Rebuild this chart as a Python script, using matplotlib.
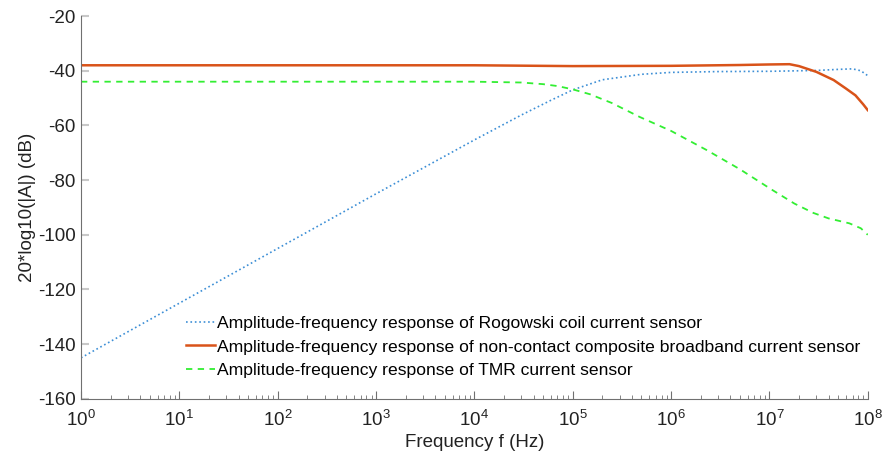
import numpy as np
import matplotlib
matplotlib.use("Agg")
import matplotlib.pyplot as plt

plt.rcParams['font.family'] = ['Liberation Sans', 'DejaVu Sans']
plt.rcParams['axes.unicode_minus'] = False

# values (frequency in Hz, response in dB)
rog_f = [1, 10, 100, 1e3, 1e4, 3e4, 6e4, 1e5, 2e5, 5e5, 1e6, 3e6, 1e7, 3e7, 5e7, 7e7, 8.5e7, 1e8]
rog_db = [-145, -125, -105, -85, -65.3, -56.2, -50.8, -47.0, -43.3, -41.3, -40.6, -40.3, -40.2, -39.9, -39.5, -39.3, -40.0, -41.8]

comp_f = [1, 1e3, 1e4, 1e5, 1e6, 5e6, 1e7, 1.6e7, 2e7, 3e7, 4.5e7, 6e7, 7.5e7, 9e7, 1e8]
comp_db = [-38.0, -38.0, -38.0, -38.3, -38.2, -37.9, -37.7, -37.6, -38.3, -40.4, -43.4, -46.5, -49.0, -52.3, -54.4]

tmr_f = [1, 1e3, 1e4, 3e4, 5e4, 7e4, 1e5, 1.5e5, 2.5e5, 4.8e5, 1e6, 2.3e6, 5e6, 1.07e7, 1.8e7, 2.8e7, 4e7, 6.5e7, 8.5e7, 1e8]
tmr_db = [-44.0, -44.0, -44.0, -44.3, -44.9, -45.6, -46.8, -48.6, -51.8, -56.9, -62.0, -69.0, -76.0, -83.6, -88.6, -92.0, -94.0, -95.8, -97.6, -100.0]

labels = ['Amplitude-frequency response of Rogowski coil current sensor',
          'Amplitude-frequency response of non-contact composite broadband current sensor',
          'Amplitude-frequency response of TMR current sensor']

fig = plt.figure(figsize=(8.86, 4.59), dpi=100)
ax = fig.add_axes([0.0914, 0.131, 0.888, 0.834])

ax.semilogx(rog_f, rog_db, ':', color='#3d8fd6', lw=1.2, label=labels[0])
ax.semilogx(comp_f, comp_db, '-', color='#D95319', lw=1.8, label=labels[1])
ax.semilogx(tmr_f, tmr_db, '--', color='#33ee33', lw=1.3, dashes=(3.5, 3), label=labels[2])

ax.set_xlim(1, 1e8)
ax.set_ylim(-160, -20)
ax.set_yticks(np.arange(-160, -19, 20))
ax.set_xticks([10.0 ** k for k in range(9)])

for s in ['top', 'right']:
    ax.spines[s].set_visible(False)
for s in ['left', 'bottom']:
    ax.spines[s].set_color('#707070')
    ax.spines[s].set_linewidth(0.8)

ax.tick_params(axis='both', which='both', direction='in', colors='#707070', labelcolor='#222222', labelsize=13.5)
ax.tick_params(axis='y', which='major', length=6, color='#c8c8c8', width=1.5, pad=4)
ax.tick_params(axis='x', which='major', length=6, pad=8)
ax.tick_params(axis='x', which='minor', length=3)

ax.set_xlabel('Frequency f (Hz)', fontsize=13.5, color='#222222', labelpad=3)
ax.set_ylabel('20*log10(|A|) (dB)', fontsize=13.5, color='#222222', labelpad=1)

ax.legend(loc='lower left', bbox_to_anchor=(0.124, 0.037), frameon=False, fontsize=12.6,
          handlelength=1.7, handletextpad=0.1, labelspacing=0.45, borderaxespad=0)

fig.savefig('out.png', dpi=100)
